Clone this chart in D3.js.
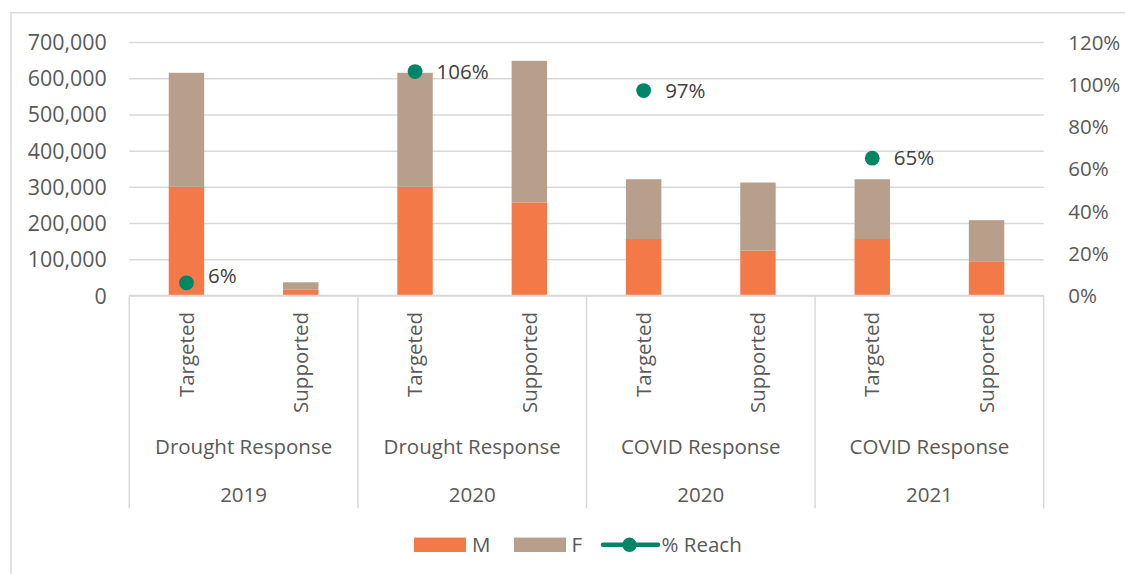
<!DOCTYPE html>
<html>
<head>
<meta charset="utf-8">
<script src="https://cdn.jsdelivr.net/npm/d3@7"></script>
<style>
  html, body { margin: 0; padding: 0; background: #fff; }
  svg { display: block; font-family: "Open Sans", sans-serif; }
</style>
</head>
<body>
<svg id="chart" width="1125" height="574"></svg>
<script>
// Inner categories (one bar each), grouped two per response/year
const categories = ["Targeted", "Supported", "Targeted", "Supported", "Targeted", "Supported", "Targeted", "Supported"];
const responseLabels = ["Drought Response", "Drought Response", "COVID Response", "COVID Response"];
const yearLabels = ["2019", "2020", "2020", "2021"];

// People reached, by sex
const maleValues   = [300000, 17000, 300000, 257000, 156000, 124000, 156000, 94500];
const femaleValues = [315000, 19500, 315000, 391000, 165000, 188000, 165000, 113500];

// Share of the target reached (only on Targeted bars)
const reachValues = [0.06, null, 1.06, null, 0.97, null, 0.65, null];

const leftTicks  = [0, 100000, 200000, 300000, 400000, 500000, 600000, 700000];
const rightTicks = [0, 0.2, 0.4, 0.6, 0.8, 1.0, 1.2];
const seriesNames = ["M", "F", "% Reach"];

const colors = { M: "#F47948", F: "#B79F8C", reach: "#008566" };
const gridColor = "#D9D9D9";
const axisText = "#595959";
const labelText = "#404040";
const fontSize = 20.5;

const plot = { left: 129.3, right: 1043.7, top: 42, bottom: 295.5 };
const catBottom = 508.3;

const svg = d3.select("#chart");

// outer chart frame (only top/left edges fall within the view)
svg.append("rect")
  .attr("x", 11).attr("y", 12.7)
  .attr("width", 1200).attr("height", 700)
  .attr("fill", "none").attr("stroke", gridColor).attr("stroke-width", 1.5);

const x = d3.scaleBand()
  .domain(d3.range(categories.length))
  .range([plot.left, plot.right])
  .paddingInner(0.69)
  .paddingOuter(0.345);

const xGroup = d3.scaleBand()
  .domain(d3.range(yearLabels.length))
  .range([plot.left, plot.right])
  .padding(0);

const yLeft = d3.scaleLinear().domain([0, 700000]).range([plot.bottom, plot.top]);
const yRight = d3.scaleLinear().domain([0, 1.2]).range([plot.bottom, plot.top]);

// gridlines
const grid = svg.append("g")
  .attr("transform", `translate(${plot.left},0)`)
  .call(d3.axisLeft(yLeft).tickValues(leftTicks).tickSize(-(plot.right - plot.left)).tickFormat(""));
grid.select(".domain").remove();
grid.selectAll("line").attr("stroke", gridColor).attr("stroke-width", 1.5);

// left axis labels
const leftAxis = svg.append("g")
  .attr("transform", `translate(${plot.left - 22.6},0)`)
  .call(d3.axisLeft(yLeft).tickValues(leftTicks).tickSize(0).tickPadding(0).tickFormat(d3.format(",")));
leftAxis.select(".domain").remove();
leftAxis.selectAll("text")
  .attr("fill", axisText).attr("font-size", 21.4)
  .attr("font-family", "Open Sans, sans-serif")
  .attr("dy", "0.35em");

// right axis labels
const rightAxis = svg.append("g")
  .attr("transform", `translate(${plot.right + 24.5},0)`)
  .call(d3.axisRight(yRight).tickValues(rightTicks).tickSize(0).tickPadding(0).tickFormat(d3.format(".0%")));
rightAxis.select(".domain").remove();
rightAxis.selectAll("text")
  .attr("fill", axisText).attr("font-size", fontSize)
  .attr("font-family", "Open Sans, sans-serif")
  .attr("dy", "0.35em");

// stacked bars
const stackRows = categories.map((c, i) => ({ i, M: maleValues[i], F: femaleValues[i] }));
const stacked = d3.stack().keys(["M", "F"])(stackRows);

svg.append("g").selectAll("g")
  .data(stacked)
  .join("g")
  .attr("fill", d => colors[d.key])
  .selectAll("rect")
  .data(d => d)
  .join("rect")
  .attr("x", d => x(d.data.i))
  .attr("width", x.bandwidth())
  .attr("y", d => yLeft(d[1]))
  .attr("height", d => yLeft(d[0]) - yLeft(d[1]));

// category axis baseline and group separators
const axisG = svg.append("g");
axisG.append("line")
  .attr("x1", plot.left).attr("x2", plot.right)
  .attr("y1", plot.bottom).attr("y2", plot.bottom)
  .attr("stroke", gridColor).attr("stroke-width", 1.5);

const boundaries = d3.range(yearLabels.length + 1).map(g =>
  g < yearLabels.length ? xGroup(g) : xGroup(g - 1) + xGroup.bandwidth());
axisG.selectAll("line.sep")
  .data(boundaries)
  .join("line")
  .attr("class", "sep")
  .attr("x1", d => d).attr("x2", d => d)
  .attr("y1", plot.bottom).attr("y2", catBottom)
  .attr("stroke", gridColor).attr("stroke-width", 1.5);

// rotated inner category labels
axisG.selectAll("text.cat")
  .data(categories)
  .join("text")
  .attr("class", "cat")
  .attr("transform", (d, i) => `translate(${x(i) + x.bandwidth() / 2},312) rotate(-90)`)
  .attr("text-anchor", "end")
  .attr("dy", "0.35em")
  .attr("fill", axisText)
  .attr("font-size", fontSize)
  .text(d => d);

// response and year labels
axisG.selectAll("text.resp")
  .data(responseLabels)
  .join("text")
  .attr("class", "resp")
  .attr("x", (d, i) => xGroup(i) + xGroup.bandwidth() / 2)
  .attr("y", 453.5)
  .attr("text-anchor", "middle")
  .attr("fill", axisText)
  .attr("font-size", fontSize)
  .text(d => d);

axisG.selectAll("text.year")
  .data(yearLabels)
  .join("text")
  .attr("class", "year")
  .attr("x", (d, i) => xGroup(i) + xGroup.bandwidth() / 2)
  .attr("y", 501.7)
  .attr("text-anchor", "middle")
  .attr("fill", axisText)
  .attr("font-size", fontSize)
  .text(d => d);

// % reach markers with labels
const reachPoints = reachValues
  .map((v, i) => ({ i, v }))
  .filter(d => d.v !== null);

const reachG = svg.append("g");
reachG.selectAll("circle")
  .data(reachPoints)
  .join("circle")
  .attr("cx", d => x(d.i) + x.bandwidth() / 2)
  .attr("cy", d => yRight(d.v))
  .attr("r", 7.4)
  .attr("fill", colors.reach);

reachG.selectAll("text")
  .data(reachPoints)
  .join("text")
  .attr("x", d => x(d.i) + x.bandwidth() / 2 + 21.5)
  .attr("y", d => Math.min(yRight(d.v), plot.bottom - 20))
  .attr("dy", "0.35em")
  .attr("fill", labelText)
  .attr("font-size", fontSize)
  .text(d => d3.format(".0%")(d.v));

// legend
const legend = svg.append("g");
const legendY = 544.8;
legend.append("rect").attr("x", 414).attr("y", legendY - 7.2).attr("width", 52).attr("height", 14.4).attr("fill", colors.M);
legend.append("text").attr("x", 472).attr("y", legendY).attr("dy", "0.35em")
  .attr("fill", axisText).attr("font-size", fontSize).text(seriesNames[0]);
legend.append("rect").attr("x", 514).attr("y", legendY - 7.2).attr("width", 52).attr("height", 14.4).attr("fill", colors.F);
legend.append("text").attr("x", 571.5).attr("y", legendY).attr("dy", "0.35em")
  .attr("fill", axisText).attr("font-size", fontSize).text(seriesNames[1]);
legend.append("line").attr("x1", 603).attr("x2", 658).attr("y1", legendY).attr("y2", legendY)
  .attr("stroke", colors.reach).attr("stroke-width", 4.5).attr("stroke-linecap", "round");
legend.append("circle").attr("cx", 629.5).attr("cy", legendY).attr("r", 7.2).attr("fill", colors.reach);
legend.append("text").attr("x", 661.5).attr("y", legendY).attr("dy", "0.35em")
  .attr("fill", axisText).attr("font-size", fontSize).text(seriesNames[2]);
</script>
</body>
</html>
